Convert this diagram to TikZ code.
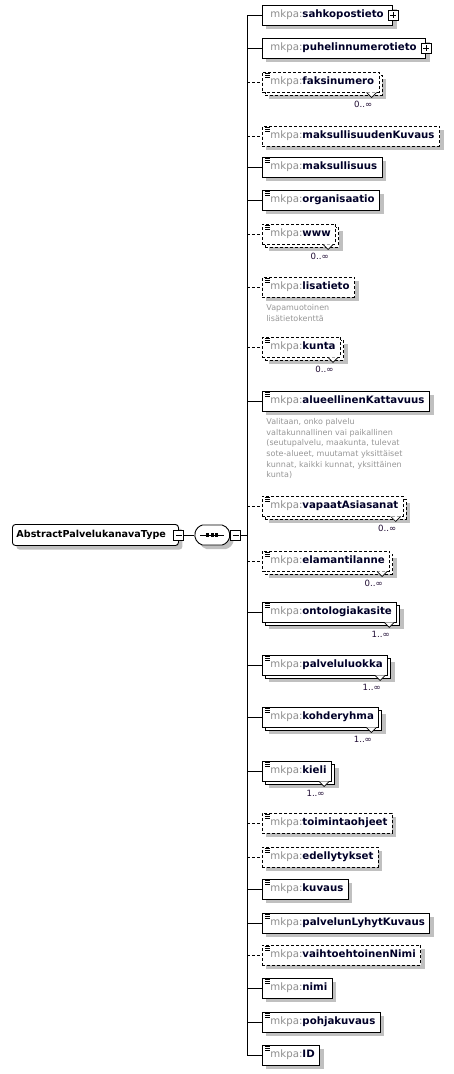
\documentclass[tikz,border=0pt]{standalone}
\usepackage{fontspec}
\newfontfamily\xsdfont{DejaVu Sans}
\usetikzlibrary{positioning,shapes.misc}
\definecolor{shadowgray}{RGB}{192,192,192}
\definecolor{pfxgray}{RGB}{140,140,140}
\definecolor{namecol}{RGB}{0,0,40}
\definecolor{desccol}{RGB}{150,150,150}
\definecolor{multcol}{RGB}{30,10,50}
\newcommand{\pfx}{{\color{pfxgray}mkpa:}}

\begin{document}
\begin{tikzpicture}[x=1pt, y=-1pt, line width=0.9pt, line join=miter,
	every node/.style={font=\xsdfont\fontsize{10.2}{12}\selectfont},
	elshadow/.style={preaction={fill=shadowgray, draw=none, transform canvas={shift={(#1)}}}},
	elshadow/.default={4pt,-4pt},
	backbox/.style={preaction={fill=white, draw, #1, transform canvas={shift={(3pt,-3pt)}}}},
	elicon/.style={path picture={\foreach \dy in {1.5,3.5,5.5} \draw[solid, line width=0.7pt] ([shift={(3pt,-\dy pt)}]path picture bounding box.north west) -- ++(5pt,0pt);}},
	elem/.style={draw, fill=white, anchor=west, minimum height=20pt, inner xsep=5pt, inner ysep=0pt, text=namecol, execute at begin node={\hspace*{3pt}}},
	mandel/.style={elem, elshadow, elicon},
	optel/.style={elem, elshadow, elicon, dash pattern=on 3pt off 2pt},
	mandmul/.style={elem, elshadow={7pt,-7pt}, backbox=solid, elicon},
	optmul/.style={elem, elshadow={7pt,-7pt}, backbox={dash pattern=on 3pt off 2pt}, elicon, dash pattern=on 3pt off 2pt},
	cplxel/.style={elem, elshadow, execute at end node={\hspace*{4pt}}},
	link mandel/.style={}, link mandmul/.style={}, link cplxel/.style={},
	link optel/.style={dash pattern=on 3pt off 2pt}, link optmul/.style={dash pattern=on 3pt off 2pt},
	minusbox/.style={draw, fill=white, solid, minimum size=10pt, inner sep=0pt,
		path picture={\draw ([xshift=2pt]path picture bounding box.west) -- ([xshift=-2pt]path picture bounding box.east);}},
	plusbox/.style={draw, fill=white, solid, minimum size=10pt, inner sep=0pt,
		path picture={\draw ([xshift=2pt]path picture bounding box.west) -- ([xshift=-2pt]path picture bounding box.east);
			\draw ([yshift=-2pt]path picture bounding box.north) -- ([yshift=2pt]path picture bounding box.south);}},
	rootbox/.style={draw, fill=white, rounded corners=3pt, anchor=west, minimum height=21pt, text width=158pt, inner xsep=4pt, inner ysep=0pt, elshadow, font=\xsdfont\bfseries\fontsize{9.6}{12}\selectfont},
	seqbox/.style={rounded rectangle, rounded rectangle arc length=150, draw, fill=white, minimum width=35pt, minimum height=20pt, inner sep=0pt, elshadow},
	desc/.style={align=left, inner sep=0pt, text=desccol, font=\xsdfont\fontsize{8}{10.7}\selectfont},
	mult/.style={inner sep=0pt, text=multcol, font=\xsdfont\fontsize{8.6}{10}\selectfont}]

	\useasboundingbox (0,0) rectangle (454,1074);

	% root type and sequence
	\node[rootbox] (root) at (12,535) {AbstractPalvelukanavaType};
	\node[minusbox] (rootm) at (root.east) {};
	\node[seqbox, right=10pt of rootm] (seq) {};
	\node[minusbox, right=0pt of seq] (seqm) {};
	\draw (rootm.east) -- (seq.west);
	\draw[line width=0.8pt] ([xshift=6pt]seq.west) -- ([xshift=-6pt]seq.east);
	\foreach \d in {-4.5,0,4.5}
		\fill ([xshift=\d pt]seq.center) +(-1.6pt,-1.6pt) rectangle +(1.6pt,1.6pt);
	\coordinate (trunk) at (247,535);
	\draw (seqm.east) -- (trunk);

	% child elements
	\foreach \nm/\yy/\kind in {sahkopostieto/15/cplxel, puhelinnumerotieto/48/cplxel, faksinumero/82/optmul,
		maksullisuudenKuvaus/136/optel, maksullisuus/167/mandel, organisaatio/200/mandel, www/234/optmul,
		lisatieto/287/optel, kunta/347/optmul, alueellinenKattavuus/401/mandel, vapaatAsiasanat/506/optmul,
		elamantilanne/561/optmul, ontologiakasite/612/mandmul, palveluluokka/665/mandmul, kohderyhma/717/mandmul,
		kieli/771/mandmul, toimintaohjeet/823/optel, edellytykset/857/optel, kuvaus/889/mandel,
		palvelunLyhytKuvaus/923/mandel, vaihtoehtoinenNimi/955/optel, nimi/988/mandel, pohjakuvaus/1022/mandel, ID/1055/mandel} {
		\node[\kind] (\nm) at (262,\yy) {\pfx\textbf{\nm}};
		\draw[link \kind] (\nm.west -| trunk) -- (\nm.west);
	}
	\draw (sahkopostieto.west -| trunk) -- (ID.west -| trunk);

	\foreach \nm in {sahkopostieto, puhelinnumerotieto}
		\node[plusbox] (\nm plus) at (\nm.east) {};

	% occurrence marks
	\foreach \nm/\lo in {faksinumero/0, www/0, kunta/0, vapaatAsiasanat/0, elamantilanne/0,
		ontologiakasite/1, palveluluokka/1, kohderyhma/1, kieli/1} {
		\draw[fill=white, line width=0.7pt] ([xshift=-13pt]\nm.south east) -- ++(5pt,-5pt) -- ++(5pt,5pt);
		\node[mult, below left=8pt and 7pt of \nm.south east] (\nm mult) {\lo..∞};
	}

	% annotations
	\node[desc, below right=6.5pt and 4pt of lisatieto.south west] (lisatieto desc) {Vapamuotoinen\\lisätietokenttä};
	\node[desc, below right=6.5pt and 4pt of alueellinenKattavuus.south west] (alueellinenKattavuus desc)
		{Valitaan, onko palvelu\\valtakunnallinen vai paikallinen\\(seutupalvelu, maakunta, tulevat\\sote-alueet, muutamat yksittäiset\\kunnat, kaikki kunnat, yksittäinen\\kunta)};

\end{tikzpicture}
\end{document}
